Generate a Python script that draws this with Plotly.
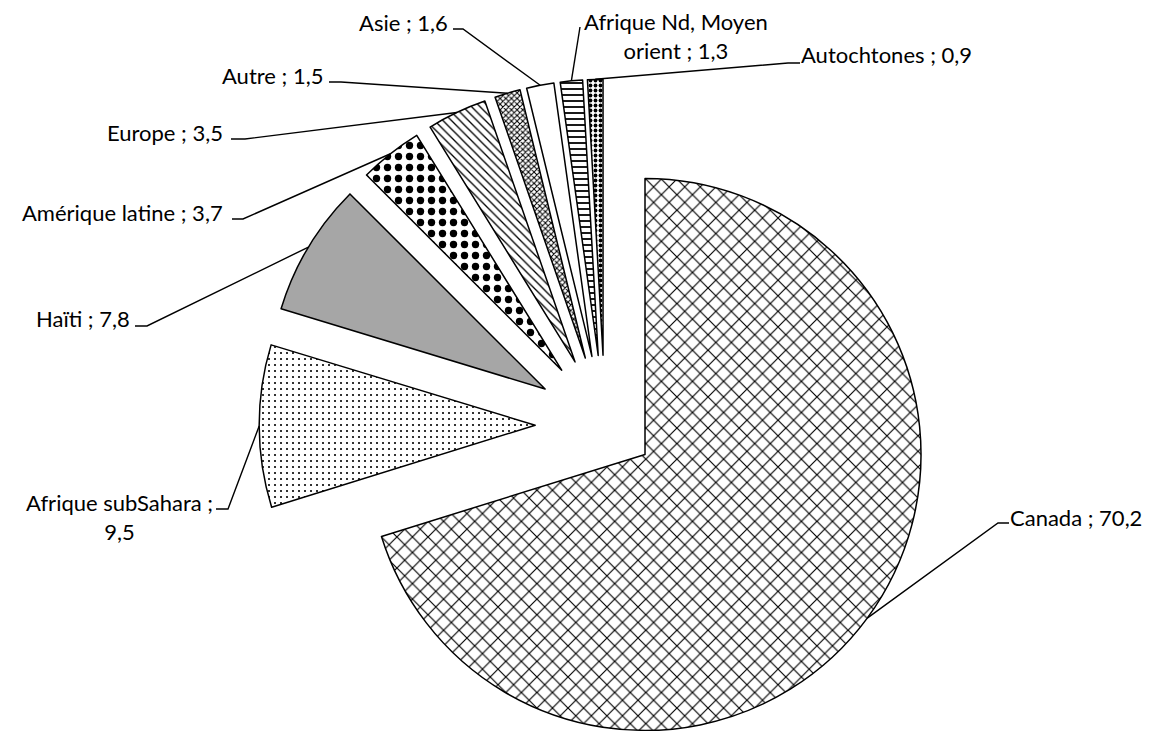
import math
import plotly.graph_objects as go

# ---------------- data ----------------
CATEGORIES = ["Canada", "Afrique subSahara", "Haïti", "Amérique latine", "Europe",
              "Autre", "Asie", "Afrique Nd, Moyen orient", "Autochtones"]
VALUES = [70.2, 9.5, 7.8, 3.7, 3.5, 1.5, 1.6, 1.3, 0.9]
LABEL_TEXT = ["Canada ; 70,2", "Afrique subSahara ;<br>9,5", "Haïti ; 7,8",
              "Amérique latine ; 3,7", "Europe ; 3,5", "Autre ; 1,5", "Asie ; 1,6",
              "Afrique Nd, Moyen<br>orient ; 1,3", "Autochtones ; 0,9"]

# ---------------- style / layout ----------------
W, H = 1150, 731
OFF = 8                             # page body margin compensation (px)
CX, CY, R = 605, 425, 276          # pie centre (px) and radius (px)
PULL = [0.18, 0.253, 0.253, 0.253, 0.253, 0.253, 0.253, 0.253, 0.253]  # fraction of R
FILL = ["white", "white", "#A6A6A6", "white", "white", "white", "white", "white", "white"]
PAT_SHAPE = ["x", ".", "", ".", "\\", "x", "", "-", "."]
PAT_SIZE = [11, 6, 8, 11, 6, 4, 8, 6, 5]
PAT_SOLID = [0.2, 0.1, 0.3, 0.35, 0.22, 0.45, 0.3, 0.3, 0.45]

# label geometry (px): elbow point, stub end x (None = no stub), text anchor
ELBOW = [(998, 523), (228, 509), (147, 326), (243, 219), (245, 139),
         (341, 82), (463, 29), (580, 27), (788, 63)]
STUB_X = [1009, 216, 135, 232, 231, 329, 453, None, 800]
TEXT_POS = [(1009, 517, "left"), (214, 517, "right"), (131, 318, "right"),
            (224, 212, "right"), (224, 132, "right"), (324, 75, "right"),
            (449, 22, "right"), (583, 36, "left"), (800, 55, "left")]

FONT = "Lato"
FSIZE = 22

TRANSP = "rgba(0,0,0,0)"


def px(x):
    return (x - OFF) / W


def py(y):
    return 1 - (y - OFF) / H


total = sum(VALUES)
starts = []
acc = 0.0
for v in VALUES:
    starts.append(acc)
    acc += v
mids = [(s + v / 2) / total * 2 * math.pi for s, v in zip(starts, VALUES)]

fig = go.Figure()
n = len(VALUES)
for i in range(n):
    dx = math.sin(mids[i]) * PULL[i] * R
    dy = -math.cos(mids[i]) * PULL[i] * R
    pcx, pcy = CX + dx, CY + dy
    dom_x = [max(0, px(pcx - R)), min(1, px(pcx + R))]
    dom_y = [max(0, py(pcy + R)), min(1, py(pcy - R))]
    colors = [FILL[j] if j == i else TRANSP for j in range(n)]
    lw = [1.5 if j == i else 0 for j in range(n)]
    shapes = [PAT_SHAPE[j] if j == i else "" for j in range(n)]
    fig.add_trace(go.Pie(
        labels=CATEGORIES, values=VALUES, sort=False, direction="clockwise",
        rotation=0, textinfo="none", hoverinfo="label+value", showlegend=False,
        domain=dict(x=dom_x, y=dom_y),
        marker=dict(colors=colors,
                    line=dict(color="black", width=lw),
                    pattern=dict(shape=shapes, fgcolor="black",
                                 bgcolor=[FILL[j] if j == i else TRANSP for j in range(n)],
                                 size=PAT_SIZE, solidity=PAT_SOLID, fillmode="replace")),
    ))

# leader lines and labels
shapes = []
annotations = []
for i in range(n):
    pull_px = PULL[i] * R
    ax = CX + math.sin(mids[i]) * (R + pull_px)
    ay = CY - math.cos(mids[i]) * (R + pull_px)
    ex, ey = ELBOW[i]
    path = f"M {px(ax)} {py(ay)} L {px(ex)} {py(ey)}"
    if STUB_X[i] is not None:
        path += f" L {px(STUB_X[i])} {py(ey)}"
    shapes.append(dict(type="path", path=path, xref="paper", yref="paper",
                       line=dict(color="black", width=1.4)))
    tx, ty, anc = TEXT_POS[i]
    annotations.append(dict(x=px(tx), y=py(ty), xref="paper", yref="paper",
                            text=LABEL_TEXT[i], showarrow=False, xanchor=anc,
                            yanchor="middle", align="center", borderpad=0,
                            font=dict(family=FONT, size=FSIZE, color="black")))

fig.update_layout(width=W, height=H, margin=dict(l=0, r=0, t=0, b=0),
                  paper_bgcolor="white", plot_bgcolor="white",
                  shapes=shapes, annotations=annotations, showlegend=False)
fig.write_html("out.html")
